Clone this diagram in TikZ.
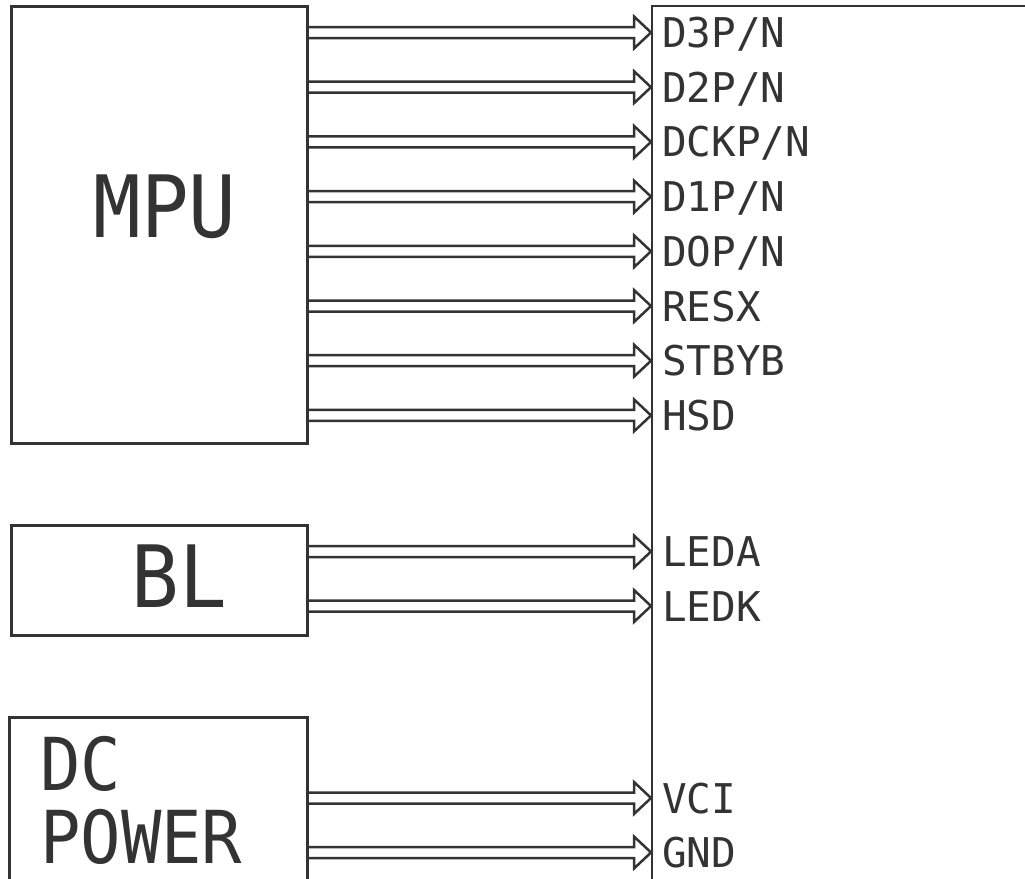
\documentclass[tikz,border=0pt]{standalone}
\usepackage{fontspec}
\newfontfamily\pinfont{DejaVu Sans Mono}
\newfontfamily\blockfont[FakeStretch=0.92]{DejaVu Sans Mono}
\usepackage{xcolor}
\usetikzlibrary{calc,positioning}
\definecolor{inkgray}{RGB}{51,51,51}

\begin{document}
\begin{tikzpicture}[
    x=1pt, y=-1pt,
    block/.style={rectangle, draw=inkgray, line width=2.8pt, inner sep=0pt, anchor=north west},
    panel/.style={rectangle, draw=inkgray, line width=2.2pt, inner sep=0pt, anchor=north west},
    blocktext/.style={inner sep=0pt, text=inkgray, font={\blockfont\fontsize{86}{86}\selectfont}},
    pin/.style={inner sep=0pt, anchor=base west, text=inkgray, font={\pinfont\fontsize{41}{41}\selectfont}},
    bus/.style={draw=inkgray, line width=2.5pt, line join=miter,
        to path={let \p1=(\tikztostart), \p2=(\tikztotarget) in
            (\x1,\y1+5.5pt) -- (\x2-17pt,\y2+5.5pt) -- (\x2-17pt,\y2+16pt) -- (\p2)
            -- (\x2-17pt,\y2-16pt) -- (\x2-17pt,\y2-5.5pt) -- (\x1,\y1-5.5pt)}}
]
\useasboundingbox (0,0) rectangle (1025,878);
\clip (0,0) rectangle (1025,878);

% ═══════════════════════════════════════════════════════════════
% Source blocks
% ═══════════════════════════════════════════════════════════════
\node[block, minimum width=296, minimum height=437] (mpu) at (10,5) {};
\node[block, minimum width=296, minimum height=110] (bl) at (10,524) {};
\node[block, minimum width=298, minimum height=300] (dc) at (8,716) {};

\node[blocktext, anchor=base] (mputext) at (165,237) {MPU};
\node[blocktext, anchor=base] (bltext) at (179.5,607) {BL};
\node[blocktext, anchor=base west, font={\blockfont\fontsize{73}{73}\selectfont}] (dctext) at (40,790) {DC};
\node[blocktext, anchor=base west, font={\blockfont\fontsize{73}{73}\selectfont}] (powertext) at (40,863) {POWER};

% ═══════════════════════════════════════════════════════════════
% Panel (runs off the page)
% ═══════════════════════════════════════════════════════════════
\node[panel, minimum width=500, minimum height=1000] (lcd) at (651,5) {};

% ═══════════════════════════════════════════════════════════════
% Signal buses
% ═══════════════════════════════════════════════════════════════
\foreach \src/\yy/\name [count=\i] in {
    mpu/32.5/{D3P/N}, mpu/87.2/{D2P/N}, mpu/141.9/{DCKP/N}, mpu/196.6/{D1P/N},
    mpu/251.3/{DOP/N}, mpu/306/{RESX}, mpu/360.7/{STBYB}, mpu/415.4/{HSD},
    bl/551.5/{LEDA}, bl/606/{LEDK},
    dc/798/{VCI}, dc/852.5/{GND}} {
    \coordinate (in\i) at (lcd.west |- 0,\yy);
    \node[pin] (pin\i) at (662,\yy+15) {\name};
    \draw[bus] (\src.east |- in\i) to (in\i);
}

\end{tikzpicture}
\end{document}
